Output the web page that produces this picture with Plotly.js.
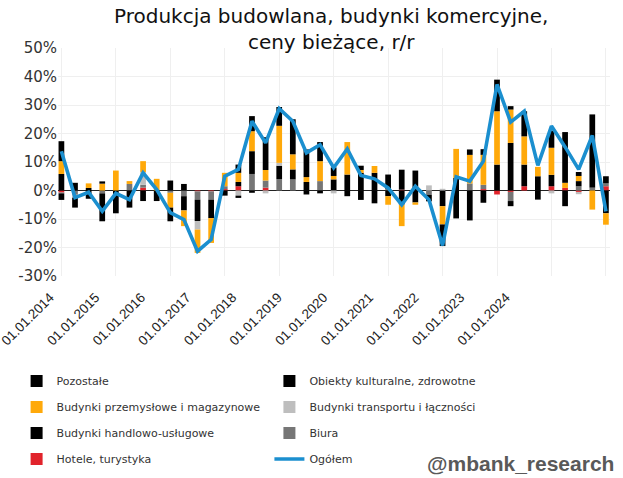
<!DOCTYPE html>
<html><head><meta charset="utf-8">
<script src="https://cdn.plot.ly/plotly-3.0.1.min.js"></script>
<style>html,body{margin:0;padding:0;background:#fff}#c{width:623px;height:478px}</style>
</head><body><div id="c"></div>
<script>
const quarters = ["2014-01-01","2014-04-01","2014-07-01","2014-10-01","2015-01-01","2015-04-01","2015-07-01","2015-10-01",
"2016-01-01","2016-04-01","2016-07-01","2016-10-01","2017-01-01","2017-04-01","2017-07-01","2017-10-01",
"2018-01-01","2018-04-01","2018-07-01","2018-10-01","2019-01-01","2019-04-01","2019-07-01","2019-10-01",
"2020-01-01","2020-04-01","2020-07-01","2020-10-01","2021-01-01","2021-04-01","2021-07-01","2021-10-01",
"2022-01-01","2022-04-01","2022-07-01","2022-10-01","2023-01-01","2023-04-01","2023-07-01","2023-10-01","2024-01-01"];
const tickLabels = ["01.01.2014","01.01.2015","01.01.2016","01.01.2017","01.01.2018","01.01.2019","01.01.2020","01.01.2021","01.01.2022","01.01.2023","01.01.2024"];

const hotele =   [-0.7,0,0,0,0,0,1,0,0,0,-0.3,-0.3,0.5,1.5,0,1,0,0,0,0,0,0,0,0,0,0.3,0,0,0,0,0,0.5,-1.4,-0.5,1.5,0,1.5,0.9,-0.5,0,1.5];
const biura =    [-0.3,-1.5,0,-1,0,2.3,1,0,-0.8,-2,-2.9,-2.9,1,0,5.8,2.5,4,3.9,0,3.3,0,0,0,0,0.6,0,0,-1.5,0,0,2.5,1.5,0,-3.2,0,0,0,0,1.5,1,1];
const handlowo = [5.8,0,0.9,-9.8,-8,-6,0,-3.7,0,-5,-7.5,-6.5,0,1.5,8,0,4.7,3.5,3,0,3.9,5.6,6.2,6.2,-2,-4.9,-4.2,-2.3,-5.5,4.4,-10.5,-4.3,9.1,16.7,7.6,5,4,-5.5,1.8,0,-8];
const transport= [0,-1,0,0,0,0,4.5,0,0,0,-3,0,0,-1.8,0,-1,1,0,0,0,-1,0,0,0,0,0,0,1.8,0.6,0,0,0,0,0,0,0,-1,0,-0.8,0,0];
const przem =    [4.5,0,1.6,2.4,7,1,3.8,4.1,-5.2,-5.5,-8.2,-8.7,4.7,3.2,7,3.7,13,5.3,1.7,7,1.2,11.4,1,2.4,-3,-7.6,-0.8,0,-6.4,10.2,10,10.5,18.7,11.7,9.9,3.3,9.5,1.8,1.8,-6.7,-4];
const obiekty =  [7,2.7,0,0.8,0,0,0,0,3.5,0,0,0,0,2.9,5.3,11.5,0,12.3,9.7,6.7,3,0,1.5,0,5,7,7,0,0,0,1.9,2,11.1,1.2,8.8,0,6,17.8,1.4,25.7,2.5];
const pozostale= [-2.3,-3.5,-2.9,0,0,0,-3.7,0,-4.8,2.3,0,0,-1.8,-0.8,-0.8,0,6.6,0,-1.4,-1,0,-2,-3.3,-4.5,0,0,0,0,-7.6,-9.8,0,0,0,-1.8,0,-3.2,0,0,0,0,0];
const ogolem =   [13.8,-2.5,-0.6,-7.3,-1,-3.2,6.2,0.3,-7.8,-10.2,-21.3,-17.2,5,7.4,24.3,16.7,28.7,24.3,13.2,16.1,8,14.6,5.3,4.1,0.9,-5,1.5,-3.2,-19.3,4.8,3.3,10.3,37.2,24,27.8,8.8,22.6,15.3,7.4,19.3,-7.3];

const yTickVals = [-30,-20,-10,0,10,20,30,40,50];
const yTickText = ["-30%","-20%","-10%","0%","10%","20%","30%","40%","50%"];

const xIdx = quarters.map((q,i)=>i);
function bar(name, y, color, legend, rank){
  return {type:'bar', name:name, x:xIdx, y:y, marker:{color:color, line:{width:0}},
          legend:legend, legendrank:rank, legendgroup:name, hoverinfo:'skip'};
}
const traces = [
  bar('Hotele, turystyka', hotele, '#E1232B', 'legend', 4),
  bar('Biura', biura, '#767676', 'legend2', 3),
  bar('Budynki handlowo-usługowe', handlowo, '#000000', 'legend', 3),
  bar('Budynki transportu i łączności', transport, '#BEBEBE', 'legend2', 2),
  bar('Budynki przemysłowe i magazynowe', przem, '#FFA90A', 'legend', 2),
  bar('Obiekty kulturalne, zdrowotne', obiekty, '#000000', 'legend2', 1),
  bar('Pozostałe', pozostale, '#000000', 'legend', 1),
  {type:'scatter', mode:'lines', name:'Ogółem', x:xIdx, y:ogolem, xaxis:'x2', yaxis:'y',
   line:{color:'#1B8FCF', width:3.6},
   legend:'legend2', legendrank:4, legendgroup:'Ogółem', hoverinfo:'skip'}
];

// label anchor positions (quarter index units, shifted back by ticklabelshift) as seen on the picture
const labelPos = tickLabels.map((t,k)=> -0.1 + 3.35*k);
const yearPos = tickLabels.map((t,k)=> 4*k);
const xRange = [-0.25, 40.3];

const legFont = {family:'DejaVu Sans', size:11, color:'#333'};
const layout = {
  width:623, height:478,
  margin:{l:58, r:13, t:48, b:202, autoexpand:false},
  paper_bgcolor:'#fff', plot_bgcolor:'#fff',
  barmode:'relative', bargap:0.58,
  showlegend:true,
  title:{text:'Produkcja budowlana, budynki komercyjne,<br>ceny bieżące, r/r', x:0.495, xanchor:'center', xref:'paper',
         y:0.951, yanchor:'top', yref:'container', automargin:false, font:{family:'DejaVu Sans', size:20, color:'#111'}},
  xaxis:{type:'linear', range:xRange, tickmode:'array', tickvals:yearPos, showticklabels:false, automargin:false,
         showgrid:true, gridcolor:'#efefef', gridwidth:1, zeroline:false, showline:false, ticks:''},
  xaxis2:{overlaying:'x', anchor:'y', side:'bottom', range:xRange, tickmode:'array', tickvals:labelPos, ticktext:tickLabels,
         tickangle:-45, ticklabelshift:-10, ticklabelstandoff:10, ticklabeloverflow:'allow',
         showgrid:false, zeroline:false, showline:false, ticks:'', automargin:false,
         tickfont:{family:'Liberation Sans', size:13.5, color:'#222'}},
  yaxis:{range:[-30,50], tickmode:'array', tickvals:yTickVals, ticktext:yTickText, showgrid:true, gridcolor:'#efefef',
         zeroline:true, zerolinecolor:'#222', zerolinewidth:1, showline:false, ticks:'', ticklen:0, automargin:false,
         tickfont:{family:'DejaVu Sans', size:15, color:'#333'}},
  legend:{orientation:'v', x:-0.075, xanchor:'left', y:-0.397, yanchor:'top',
          font:legFont, tracegroupgap:7, bgcolor:'rgba(0,0,0,0)'},
  legend2:{orientation:'v', x:0.383, xanchor:'left', y:-0.397, yanchor:'top',
          font:legFont, tracegroupgap:7, bgcolor:'rgba(0,0,0,0)'},
  annotations:[{text:'<b>@mbank_research</b>', xref:'paper', yref:'paper', x:1.01, xanchor:'right', y:-0.822, yanchor:'middle',
                showarrow:false, font:{family:'Liberation Sans', size:21, color:'#595959'}}]
};
Plotly.newPlot('c', traces, layout, {displayModeBar:false, staticPlot:true});
</script></body></html>
